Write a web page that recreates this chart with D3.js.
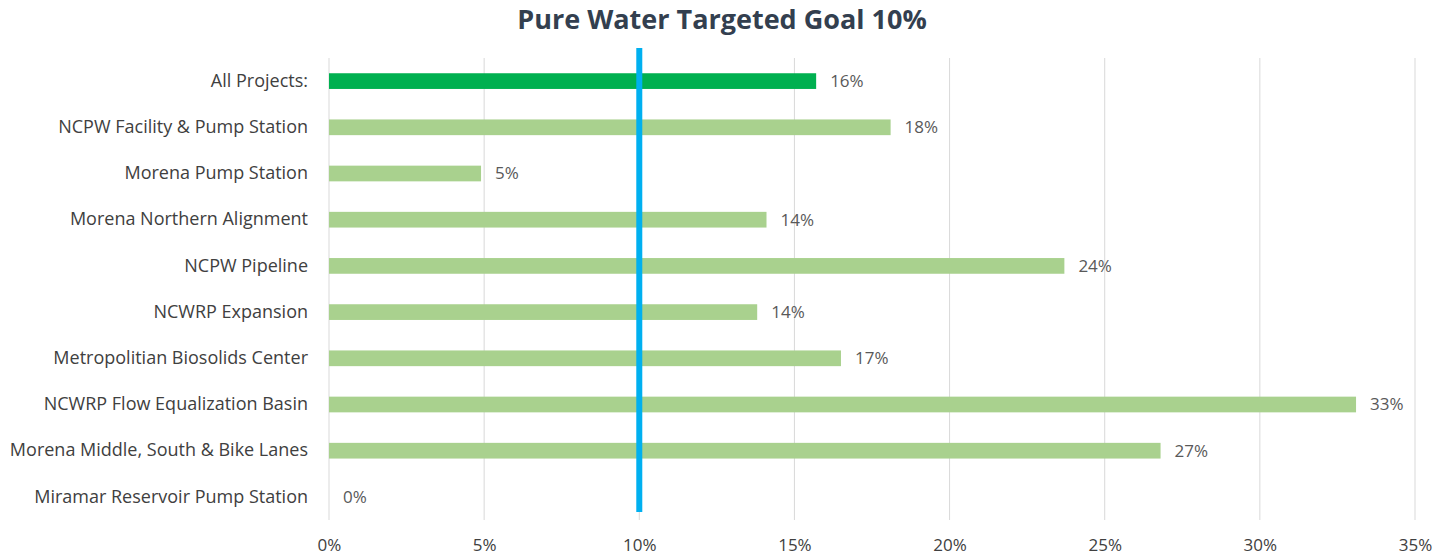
<!DOCTYPE html>
<html lang="en">
<head>
<meta charset="UTF-8">
<title>Pure Water Targeted Goal 10%</title>
<script src="https://d3js.org/d3.v7.min.js"></script>
<style>
  body { margin: 0; background: #fff; }
  svg { display: block; }
</style>
</head>
<body>
<svg></svg>
<script>
// chart data
const projects = [
    "All Projects:",
    "NCPW Facility & Pump Station",
    "Morena Pump Station",
    "Morena Northern Alignment",
    "NCPW Pipeline",
    "NCWRP Expansion",
    "Metropolitian Biosolids Center",
    "NCWRP Flow Equalization Basin",
    "Morena Middle, South & Bike Lanes",
    "Miramar Reservoir Pump Station"
];
const shares = [15.7, 18.1, 4.9, 14.1, 23.7, 13.8, 16.5, 33.1, 26.8, 0];
const valueLabels = ["16%", "18%", "5%", "14%", "24%", "14%", "17%", "33%", "27%", "0%"];
const xTicks = [0, 5, 10, 15, 20, 25, 30, 35];
const goal = 10;

const width = 1448, height = 558;
const margin = { top: 58, right: 33, bottom: 38, left: 329 };
const innerW = width - margin.left - margin.right;
const innerH = height - margin.top - margin.bottom;

const svg = d3.select("svg").attr("width", width).attr("height", height);

svg.append("text")
    .attr("x", 722)
    .attr("y", 29)
    .attr("text-anchor", "middle")
    .style("font-family", "'Open Sans', sans-serif")
    .style("font-weight", "700")
    .style("font-size", "27px")
    .style("fill", "#333f4f")
    .text("Pure Water Targeted Goal 10%");

const g = svg.append("g").attr("transform", `translate(${margin.left},${margin.top})`);

const x = d3.scaleLinear().domain([0, 35]).range([0, innerW]);
const y = d3.scaleBand().domain(projects).range([0, innerH]).paddingInner(0.66).paddingOuter(0.33);

// gridlines
g.selectAll(".grid")
    .data(xTicks)
    .join("line")
    .attr("x1", d => x(d)).attr("x2", d => x(d))
    .attr("y1", 0).attr("y2", innerH)
    .attr("stroke", "#d9d9d9")
    .attr("stroke-width", 1);

// bars
g.selectAll(".bar")
    .data(projects)
    .join("rect")
    .attr("x", x(0))
    .attr("y", d => y(d))
    .attr("width", (d, i) => x(shares[i]) - x(0))
    .attr("height", y.bandwidth())
    .attr("fill", (d, i) => i === 0 ? "#00b050" : "#a9d18e");

// value labels
g.selectAll(".val")
    .data(projects)
    .join("text")
    .attr("x", (d, i) => x(shares[i]) + 14)
    .attr("y", d => y(d) + y.bandwidth() / 2)
    .attr("dy", "0.35em")
    .style("font-family", "'Open Sans', sans-serif")
    .style("font-size", "17px")
    .style("fill", "#595959")
    .text((d, i) => valueLabels[i]);

// category labels
const yAxis = g.append("g").call(d3.axisLeft(y).tickSize(0).tickPadding(21));
yAxis.select(".domain").remove();
yAxis.selectAll("text")
    .style("font-family", "'Open Sans', sans-serif")
    .style("font-size", "18px")
    .style("fill", "#404040");

// x axis
const xAxis = g.append("g")
    .attr("transform", `translate(0,${innerH})`)
    .call(d3.axisBottom(x).tickValues(xTicks).tickSize(0).tickPadding(19).tickFormat(d => d + "%"));
xAxis.select(".domain").remove();
xAxis.selectAll("text")
    .style("font-family", "'Open Sans', sans-serif")
    .style("font-size", "17px")
    .style("fill", "#404040");

// goal line
g.append("line")
    .attr("x1", x(goal)).attr("x2", x(goal))
    .attr("y1", -10).attr("y2", innerH - 8)
    .attr("stroke", "#00b0f0")
    .attr("stroke-width", 6);
</script>
</body>
</html>
